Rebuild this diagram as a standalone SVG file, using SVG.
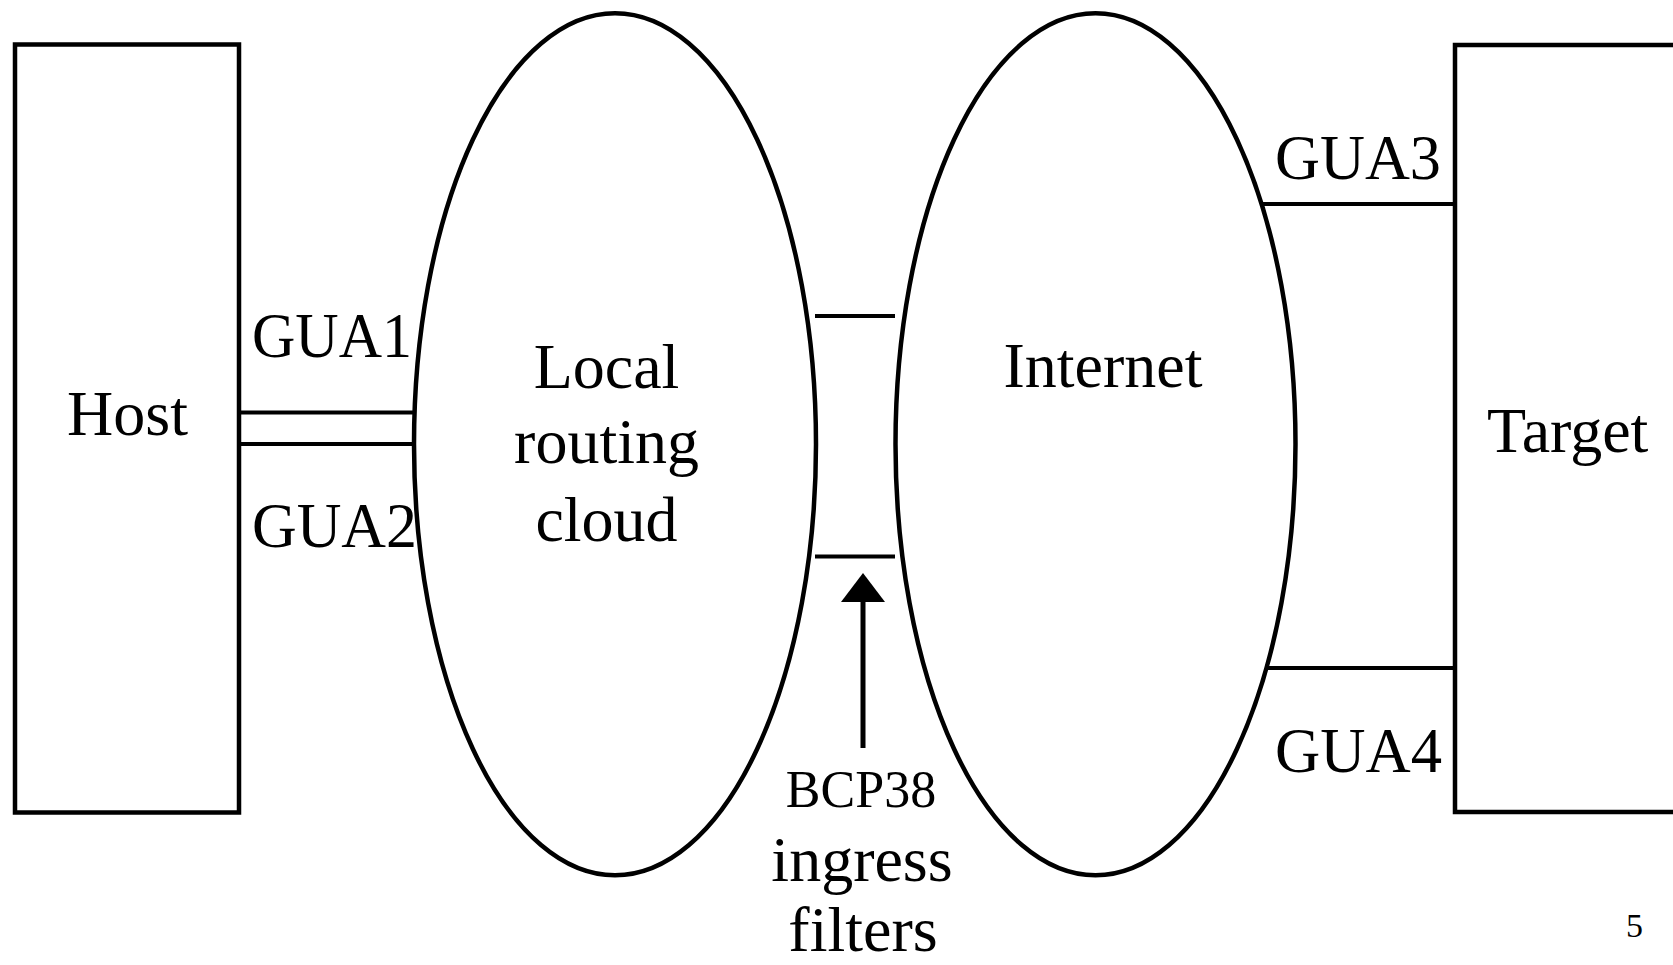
<svg xmlns="http://www.w3.org/2000/svg" width="1673" height="965" viewBox="0 0 1673 965">
<style>
.box{fill:#fff;stroke:#000;stroke-width:4.5}
.ell{fill:#fff;stroke:#000;stroke-width:4.5}
.ln{stroke:#000;stroke-width:4;fill:none}
text{font-family:"Liberation Serif","Times New Roman",serif;fill:#000;font-size:64px}
.c{text-anchor:middle}
</style>
<rect width="1673" height="965" fill="#fff"/>
<g id="host">
<rect class="box" x="15" y="44.5" width="224" height="768"/>
<text class="c" x="127.5" y="435">Host</text>
</g>
<g id="target">
<rect class="box" x="1455" y="45" width="300" height="767"/>
<text x="1487" y="452">Target</text>
</g>
<g id="local">
<ellipse class="ell" cx="615" cy="444.3" rx="201" ry="431"/>
<text class="c" x="606.5" y="388">Local</text>
<text class="c" x="606.5" y="463">routing</text>
<text class="c" x="606.5" y="541">cloud</text>
</g>
<g id="internet">
<ellipse class="ell" cx="1095.5" cy="444.3" rx="200" ry="431"/>
<text class="c" x="1103" y="387">Internet</text>
</g>
<g id="connectors">
<line class="ln" x1="241" y1="412.5" x2="415" y2="412.5"/>
<line class="ln" x1="241" y1="444" x2="415" y2="444"/>
<line class="ln" x1="815" y1="316" x2="895" y2="316"/>
<line class="ln" x1="815" y1="556.5" x2="895" y2="556.5"/>
<line class="ln" x1="1263" y1="204" x2="1455" y2="204"/>
<line class="ln" x1="1266" y1="668" x2="1455" y2="668"/>
<line class="ln" x1="863" y1="748" x2="863" y2="600" style="stroke-width:5"/>
<polygon points="863,573 841,602 885,602" fill="#000"/>
</g>
<g id="labels">
<text x="252" y="357" textLength="160" lengthAdjust="spacingAndGlyphs">GUA1</text>
<text x="252" y="547" textLength="165" lengthAdjust="spacingAndGlyphs">GUA2</text>
<text x="1275" y="179" textLength="166" lengthAdjust="spacingAndGlyphs">GUA3</text>
<text x="1275" y="772" textLength="167" lengthAdjust="spacingAndGlyphs">GUA4</text>
<text class="c" x="861" y="807" style="font-size:52px">BCP38</text>
<text class="c" x="862" y="881">ingress</text>
<text class="c" x="863" y="951">filters</text>
<text x="1626" y="937" style="font-size:34px">5</text>
</g>
</svg>
